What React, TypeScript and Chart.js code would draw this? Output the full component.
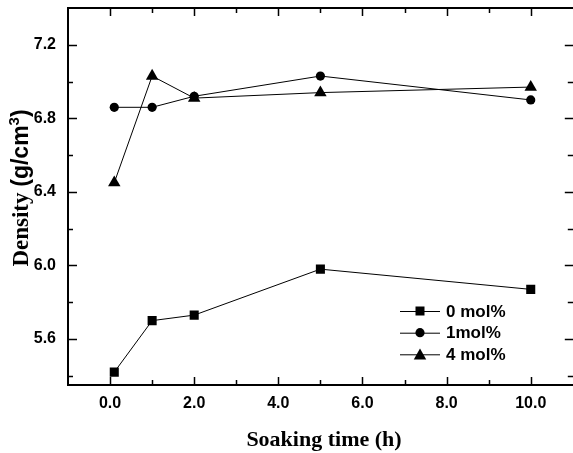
import React, { useEffect, useRef } from "react";
import { Chart, registerables } from "chart.js";

Chart.register(...registerables);

const soakingTime = [0.1, 1, 2, 5, 10];
const series0 = [5.42, 5.7, 5.73, 5.98, 5.87];
const series1 = [6.86, 6.86, 6.92, 7.03, 6.9];
const series4 = [6.45, 7.03, 6.91, 6.94, 6.97];
const seriesLabels = ["0 mol%", "1mol%", "4 mol%"];
const xMajorTicks = [0, 2, 4, 6, 8, 10];
const xMinorTicks = [1, 3, 5, 7, 9];
const yMajorTicks = [5.6, 6.0, 6.4, 6.8, 7.2];
const yMinorTicks = [5.4, 5.8, 6.2, 6.6, 7.0];

const SANS = "'Liberation Sans', Arial, sans-serif";
const SERIF = "'Liberation Serif', 'Times New Roman', serif";

function drawMarker(ctx: CanvasRenderingContext2D, style: string, x: number, y: number) {
  ctx.beginPath();
  if (style === "rect") {
    ctx.rect(x - 4.5, y - 4.5, 9, 9);
  } else if (style === "circle") {
    ctx.arc(x, y, 4.6, 0, Math.PI * 2);
  } else {
    const r = 7.2;
    ctx.moveTo(x, y - r);
    ctx.lineTo(x + r * Math.cos(Math.PI / 6), y + r / 2);
    ctx.lineTo(x - r * Math.cos(Math.PI / 6), y + r / 2);
    ctx.closePath();
  }
  ctx.fill();
}

const framePlugin = {
  id: "frameTicks",
  afterDatasetsDraw(chart: any) {
    const ctx = chart.ctx as CanvasRenderingContext2D;
    const { left, right, top, bottom } = chart.chartArea;
    const xs = chart.scales.x;
    const ys = chart.scales.y;
    ctx.save();
    ctx.strokeStyle = "#000";
    ctx.lineWidth = 1.5;
    const major = 8;
    const minor = 5;
    ctx.beginPath();
    xMajorTicks.forEach((v) => {
      const px = Math.round(xs.getPixelForValue(v)) + 0.5;
      ctx.moveTo(px, bottom); ctx.lineTo(px, bottom - major);
      ctx.moveTo(px, top); ctx.lineTo(px, top + major);
    });
    xMinorTicks.forEach((v) => {
      const px = Math.round(xs.getPixelForValue(v)) + 0.5;
      ctx.moveTo(px, bottom); ctx.lineTo(px, bottom - minor);
      ctx.moveTo(px, top); ctx.lineTo(px, top + minor);
    });
    yMajorTicks.forEach((v) => {
      const py = Math.round(ys.getPixelForValue(v)) + 0.5;
      ctx.moveTo(left, py); ctx.lineTo(left + major + 1, py);
      ctx.moveTo(right + 2, py); ctx.lineTo(right - major, py);
    });
    yMinorTicks.forEach((v) => {
      const py = Math.round(ys.getPixelForValue(v)) + 0.5;
      ctx.moveTo(left, py); ctx.lineTo(left + minor, py);
      ctx.moveTo(right + 2, py); ctx.lineTo(right - minor, py);
    });
    ctx.stroke();
    ctx.lineWidth = 2;
    ctx.beginPath();
    ctx.moveTo(right + 4, top);
    ctx.lineTo(left, top);
    ctx.lineTo(left, bottom);
    ctx.lineTo(right + 4, bottom);
    ctx.stroke();

    // legend
    const styles = ["rect", "circle", "triangle"];
    const rowY = [311, 332.7, 354.3];
    ctx.fillStyle = "#000";
    ctx.font = `bold 17px ${SANS}`;
    ctx.textBaseline = "middle";
    ctx.textAlign = "left";
    chart.data.datasets.forEach((ds: any, i: number) => {
      const y = rowY[i];
      ctx.lineWidth = 1;
      ctx.beginPath();
      ctx.moveTo(400, y + 0.5);
      ctx.lineTo(440, y + 0.5);
      ctx.stroke();
      drawMarker(ctx, styles[i], 420, styles[i] === "triangle" ? y + 1.5 : y);
      ctx.fillText(ds.label, 446, y + 1);
    });

    // x title
    ctx.font = `bold 22px ${SERIF}`;
    ctx.textAlign = "center";
    ctx.textBaseline = "alphabetic";
    ctx.fillText("Soaking time (h)", 324, 446);

    // y title (mixed fonts)
    ctx.translate(28, 188);
    ctx.rotate(-Math.PI / 2);
    const parts = [
      { t: "Density ", f: `bold 23px ${SERIF}`, dy: 0 },
      { t: "(g/cm", f: `bold 23px ${SANS}`, dy: 0 },
      { t: "3", f: `bold 15px ${SANS}`, dy: -9 },
      { t: ")", f: `bold 23px ${SANS}`, dy: 0 },
    ];
    let total = 0;
    parts.forEach((p) => { ctx.font = p.f; total += ctx.measureText(p.t).width; });
    let cx = -total / 2;
    ctx.textAlign = "left";
    parts.forEach((p) => {
      ctx.font = p.f;
      ctx.fillText(p.t, cx, p.dy);
      cx += ctx.measureText(p.t).width;
    });
    ctx.restore();
  },
};

export default function App() {
  const ref = useRef<HTMLCanvasElement | null>(null);
  useEffect(() => {
    if (!ref.current) return;
    const mk = (label: string, vals: number[], style: string, radius: number) => ({
      label,
      data: soakingTime.map((x, i) => ({ x, y: vals[i] })),
      borderColor: "#000",
      backgroundColor: "#000",
      borderWidth: 1,
      pointStyle: style,
      pointRadius: radius,
      pointBorderWidth: 0,
      pointBackgroundColor: "#000",
      showLine: true,
      tension: 0,
    });
    const zeroPad = (s: any) => {
      s.paddingTop = 0; s.paddingBottom = 0; s.paddingLeft = 0; s.paddingRight = 0;
    };
    const chart = new Chart(ref.current, {
      type: "scatter",
      data: {
        datasets: [
          mk(seriesLabels[0], series0, "rect", 6.4),
          mk(seriesLabels[1], series1, "circle", 4.6),
          mk(seriesLabels[2], series4, "triangle", 7.2),
        ],
      },
      options: {
        animation: false,
        responsive: false,
        devicePixelRatio: 1,
        layout: { padding: { left: 0, top: 8, right: 6, bottom: 0 } },
        plugins: { legend: { display: false }, tooltip: { enabled: false } },
        scales: {
          x: {
            type: "linear",
            min: -1,
            max: 11,
            grid: { display: false, drawTicks: false },
            border: { display: false },
            afterBuildTicks: (s: any) => { s.ticks = xMajorTicks.map((v) => ({ value: v })); },
            afterFit: (s: any) => { s.height = 68; zeroPad(s); },
            ticks: {
              padding: 9,
              color: "#000",
              font: { family: SANS, size: 16, weight: "bold" },
              callback: (v: any) => Number(v).toFixed(1),
            },
          },
          y: {
            type: "linear",
            min: 5.35,
            max: 7.4,
            grid: { display: false, drawTicks: false },
            border: { display: false },
            afterBuildTicks: (s: any) => { s.ticks = yMajorTicks.map((v) => ({ value: v })); },
            afterFit: (s: any) => { s.width = 68; zeroPad(s); },
            ticks: {
              padding: 12,
              color: "#000",
              font: { family: SANS, size: 16, weight: "bold" },
              callback: (v: any) => Number(v).toFixed(1),
            },
          },
        },
      },
      plugins: [framePlugin],
    } as any);
    return () => chart.destroy();
  }, []);
  return (
    <div style={{ position: "fixed", left: 0, top: 0, width: 573, height: 453, overflow: "hidden", background: "#fff" }}>
      <canvas ref={ref} width={580} height={453} style={{ display: "block", width: 580, height: 453 }} />
    </div>
  );
}
